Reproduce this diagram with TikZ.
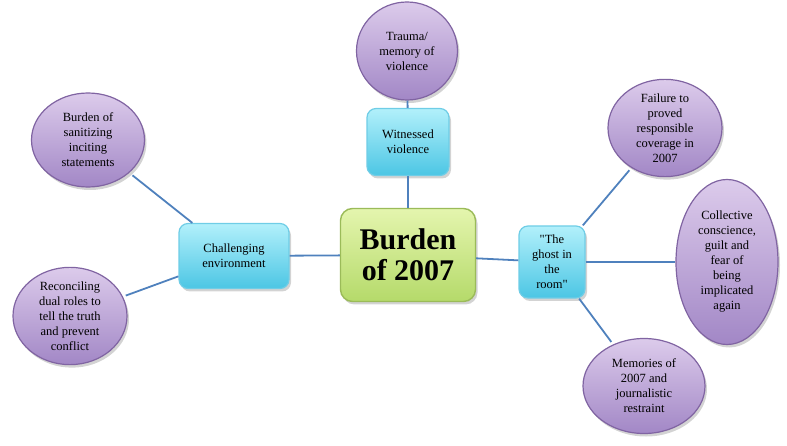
\documentclass[tikz,border=0pt]{standalone}
\usepackage{fontspec}
\setmainfont[Ligatures=TeXOff]{Liberation Serif}
\usetikzlibrary{shapes.geometric,shadows}

\definecolor{linkblue}{HTML}{4F81BD}
\definecolor{boxline}{HTML}{6FCDE6}
\definecolor{boxtop}{HTML}{B2F0FB}
\definecolor{boxbot}{HTML}{4CC6E4}
\definecolor{ovline}{HTML}{8064A2}
\definecolor{ovtop}{HTML}{DCCBEB}
\definecolor{ovbot}{HTML}{A287C6}
\definecolor{hubline}{HTML}{9BBB59}
\definecolor{hubtop}{HTML}{E4F5AE}
\definecolor{hubbot}{HTML}{B5DA6A}

\tikzset{
  topic/.style={draw=boxline, line width=1.2pt, rounded corners=9pt, top color=boxtop, bottom color=boxbot,
    drop shadow={opacity=0.35, shadow xshift=2pt, shadow yshift=-3pt}, align=center, font=\fontsize{12.5}{15}\selectfont, inner sep=1pt},
  idea/.style={ellipse, draw=ovline, line width=1.2pt, top color=ovtop, bottom color=ovbot,
    drop shadow={opacity=0.35, shadow xshift=2pt, shadow yshift=-3pt}, align=center, font=\fontsize{12.5}{15}\selectfont, inner sep=0pt},
  link/.style={draw=linkblue, line width=1.8pt}
}

\begin{document}
\begin{tikzpicture}[x=1pt,y=-1pt]
    \useasboundingbox (0,0) rectangle (787,446);

    \node[draw=hubline, line width=1.4pt, rounded corners=12pt, top color=hubtop, bottom color=hubbot,
      drop shadow={opacity=0.35, shadow xshift=2pt, shadow yshift=-3pt},
      minimum width=135pt, minimum height=93pt, align=center, font=\fontsize{30}{31}\selectfont\bfseries]
      (hub) at (408,255) {Burden\\of 2007};

    \node[topic, minimum width=82pt, minimum height=67pt] (witness) at (408,142) {Witnessed\\violence};
    \node[topic, minimum width=110pt, minimum height=65pt] (env) at (234,256) {Challenging\\environment};
    \node[topic, minimum width=66pt, minimum height=72pt] (ghost) at (552,262) {"The\\ghost in\\the\\room"};

    \node[idea, minimum width=101pt, minimum height=98pt] (trauma) at (407,51) {Trauma/\\memory of\\violence};
    \node[idea, minimum width=114pt, minimum height=95pt] (failure) at (665,128) {Failure to\\proved\\responsible\\coverage in\\2007};
    \node[idea, minimum width=102pt, minimum height=165pt] (guilt) at (727,262) {Collective\\conscience,\\guilt and\\fear of\\being\\implicated\\again};
    \node[idea, minimum width=122pt, minimum height=95pt] (memories) at (644,386) {Memories of\\2007 and\\journalistic\\restraint};
    \node[idea, minimum width=113pt, minimum height=94pt] (sanitize) at (88,140) {Burden of\\sanitizing\\inciting\\statements};
    \node[idea, minimum width=114pt, minimum height=90pt] (dual) at (70,316) {Reconciling\\dual roles to\\tell the truth\\and prevent\\conflict};

    \draw[link] (hub) -- (witness);
    \draw[link] (witness) -- (trauma);
    \draw[link] (hub) -- (env);
    \draw[link] (hub) -- (ghost);
    \draw[link, shorten >=3pt] (ghost) -- (failure);
    \draw[link] (ghost) -- (guilt);
    \draw[link, shorten >=3pt] (ghost) -- (memories);
    \draw[link, shorten >=4pt] (env) -- (sanitize);
    \draw[link, shorten >=3pt] (env) -- (dual);
\end{tikzpicture}
\end{document}
